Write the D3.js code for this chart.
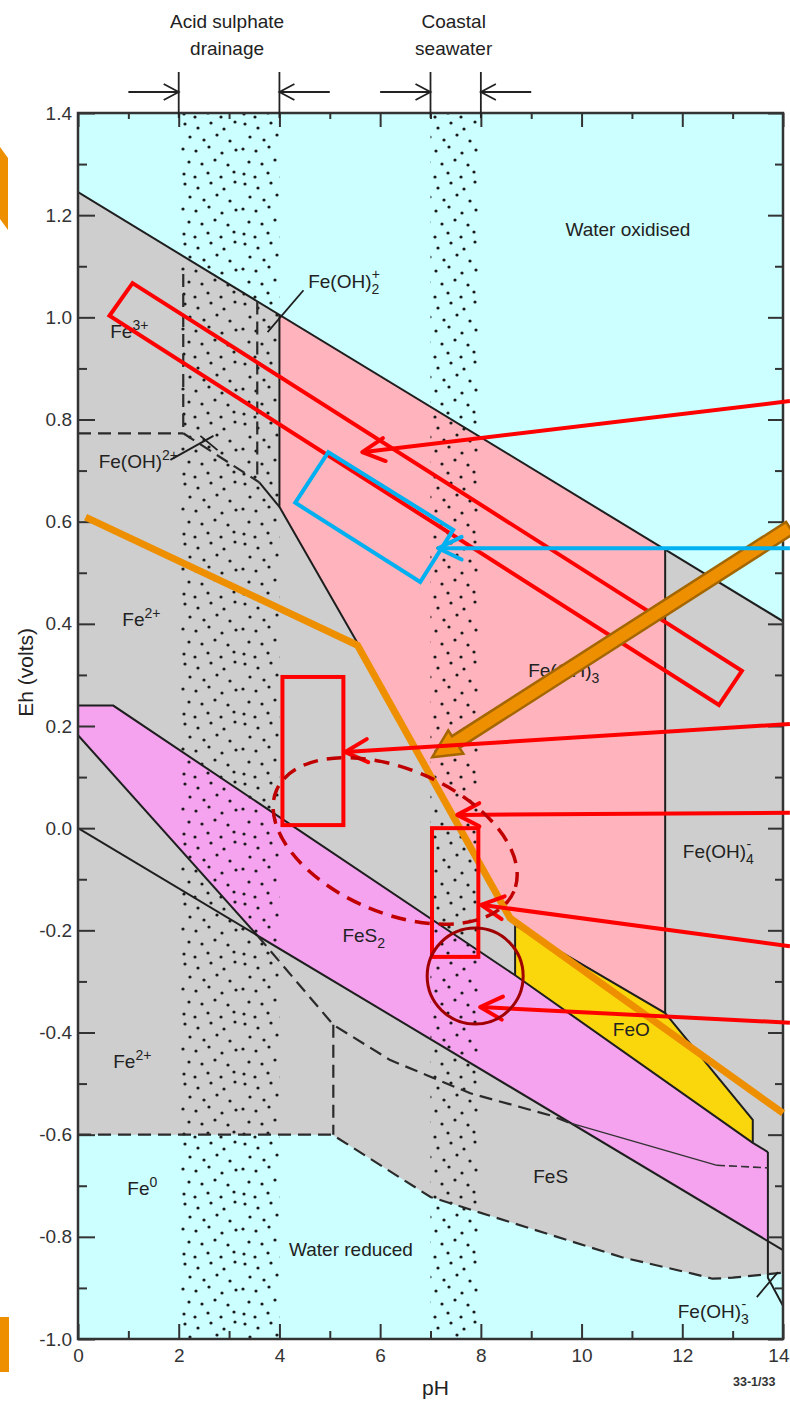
<!DOCTYPE html>
<html><head><meta charset="utf-8">
<script src="https://cdn.jsdelivr.net/npm/d3@7"></script>
<style>
body{margin:0;background:#fff;}
text{font-family:"Liberation Sans",Arial,Helvetica,sans-serif;}
</style>
</head><body>
<svg id="c" width="790" height="1402"></svg>
<script>
// ---------- axis ticks ----------
const phTicks = [0,2,4,6,8,10,12,14];
const phMinor = [1,3,5,7,9,11,13];
const ehTicks = [1.4,1.2,1.0,0.8,0.6,0.4,0.2,0.0,-0.2,-0.4,-0.6,-0.8,-1.0];
const ehMinor = [1.3,1.1,0.9,0.7,0.5,0.3,0.1,-0.1,-0.3,-0.5,-0.7,-0.9];

// ---------- stability field boundaries (pH, Eh) ----------
const waterUpper = [[0,1.245],[14,0.405]];
const waterLower = [[0,0.0],[14,-0.826]];
const fe0Boundary = [[0,-0.6],[5.05,-0.6],[7.0,-0.722],[10.8,-0.84],[12.2,-0.872],[12.6,-0.882],[13.0,-0.88],[14,-0.87]];
const feohPink = [[4.0,1.005],[11.66,0.545],[11.66,-0.362],[8.68,-0.19],[5.57,0.359],[4.0,0.629]];
const fes2Top = [[0,0.24],[0.7,0.24],[8.68,-0.288],[13.4,-0.616],[13.7,-0.634]];
const fes2Left = [[0,0.182],[3.57,-0.211]];
const feoPoly = [[8.68,-0.19],[11.66,-0.362],[13.4,-0.571],[13.4,-0.616],[8.68,-0.288]];
const feohLeft = [[4.0,1.005],[4.0,0.629],[5.57,0.359],[8.68,-0.19]];
const feohRight = [[11.66,0.545],[11.66,-0.362]];
const feoTop = [[8.68,-0.19],[11.66,-0.362],[13.4,-0.571],[13.4,-0.616]];
const feoLeft = [[8.68,-0.19],[8.68,-0.288]];
const rightEdge = [[13.7,-0.634],[13.7,-0.88],[14,-0.935]];
const fesThin = [[9.8,-0.578],[12.69,-0.66]];
const fesThinDash = [[12.69,-0.66],[13.7,-0.665]];
const fe3Solid = [[3.6,0.677],[4.0,0.629]];
const dashLines = [
  [[0,0.773],[2.09,0.773]],
  [[2.09,1.085],[2.09,0.773]],
  [[3.56,1.031],[3.56,0.682]],
  [[2.09,0.773],[3.6,0.677]],
  [[3.57,-0.211],[5.07,-0.385],[6.2,-0.454],[7.79,-0.519],[9.37,-0.562],[9.8,-0.578]],
  [[5.07,-0.385],[5.07,-0.6]],
  fe0Boundary
];
const leaders = [
  [[3.765,0.971],[4.478,1.053]],
  [[1.835,0.721],[2.69,0.768]],
  [[2.43,0.768],[2.77,0.740]],
  [[13.48,-0.918],[13.9,-0.869]]
];

// ---------- labels ----------
const regionLabels = [
  {t:[["Water oxidised","n"]], ph:10.92, eh:1.159, anchor:"middle"},
  {t:[["Fe(OH)","n"],["2","+"]], ph:4.57, eh:1.057},
  {t:[["Fe","n"],["3+","sup"]], ph:0.64, eh:0.960},
  {t:[["Fe(OH)","n"],["2+","sup"]], ph:0.41, eh:0.705},
  {t:[["Fe","n"],["2+","sup"]], ph:0.88, eh:0.396},
  {t:[["Fe(OH)","n"],["3","sub"]], ph:8.94, eh:0.296},
  {t:[["Fe(OH)","n"],["4","-"]], ph:12.01, eh:-0.0585},
  {t:[["FeS","n"],["2","sub"]], ph:5.25, eh:-0.223},
  {t:[["FeO","n"]], ph:10.62, eh:-0.407},
  {t:[["Fe","n"],["2+","sup"]], ph:0.70, eh:-0.470},
  {t:[["Fe","n"],["0","sup"]], ph:0.98, eh:-0.718},
  {t:[["FeS","n"]], ph:9.04, eh:-0.695},
  {t:[["Water reduced","n"]], ph:4.19, eh:-0.838},
  {t:[["Fe(OH)","n"],["3","-"]], ph:11.91, eh:-0.959}
];
const bands = [
  {name:["Acid sulphate","drainage"], from:2, to:4, arrowFrom:[1,5]},
  {name:["Coastal","seawater"], from:7, to:8, arrowFrom:[6,9]}
];

// ---------- overlay annotations (pH, Eh) ----------
const redTilted = [[1.083,1.067],[13.184,0.308],[12.728,0.241],[0.625,1.003]];
const blueTilted = [[4.970,0.736],[7.450,0.584],[6.796,0.482],[4.315,0.637]];
const redBoxes = [{ph:[4.06,5.27], eh:[0.006,0.296]}, {ph:[7.03,7.95], eh:[-0.252,0.0]}];
const redArrows = [
  [[14.137,0.836],[5.645,0.736]],
  [[14.137,0.204],[5.308,0.149]],
  [[14.137,0.030],[7.53,0.026]],
  [[14.137,-0.231],[8.006,-0.150]],
  [[14.137,-0.381],[7.986,-0.350]]
];
const blueArrow = [[14.137,0.548],[7.153,0.548]];
const orangeArrow = [[14.137,0.588],[7.034,0.139]];
const orangeLine = [[0.15,0.609],[5.55,0.358],[8.58,-0.176],[14.0,-0.558]];
const dashedEllipse = {ph:6.298, eh:-0.025};
const darkCircle = {ph:7.887, eh:-0.2895};

// ---------- drawing ----------
const svg = d3.select("#c");
const x = d3.scaleLinear().domain([0,14]).range([78,783]);
const y = d3.scaleLinear().domain([-1.0,1.4]).range([1339,113]);
const P = d => [x(d[0]), y(d[1])];
const line = d3.line().x(d=>x(d[0])).y(d=>y(d[1]));

const C = {cyan:"#ccffff", grey:"#cecece", pink:"#ffb3bc", fes2:"#f5a2ef", yellow:"#fad60c",
  ink:"#1e1e1e", red:"#ff0000", blue:"#00b0f0", orange:"#ee8f00", orangeDark:"#a36600", dred:"#c00000", circ:"#a00000"};

const defs = svg.append("defs");
defs.append("clipPath").attr("id","plot").append("rect")
  .attr("x",x(0)).attr("y",y(1.4)).attr("width",x(14)-x(0)).attr("height",y(-1)-y(1.4));
const pat = defs.append("pattern").attr("id","dots").attr("patternUnits","userSpaceOnUse")
  .attr("width",60).attr("height",60);
[[5,4],[18,8],[31,3],[44,9],[55,2],[10,17],[24,20],[37,15],[50,21],
 [3,29],[16,31],[29,27],[42,33],[56,30],[9,42],[22,44],[35,40],[48,45],
 [4,54],[15,57],[28,53],[41,57],[54,52]].forEach(d=>
  pat.append("circle").attr("cx",d[0]).attr("cy",d[1]).attr("r",1.6).attr("fill","#1a1a1a"));

const plot = svg.append("g").attr("clip-path","url(#plot)");
plot.append("rect").attr("x",x(0)).attr("y",y(1.4)).attr("width",x(14)-x(0)).attr("height",y(-1)-y(1.4)).attr("fill",C.cyan);

const greyPoly = [...waterUpper, [14,-0.87], ...fe0Boundary.slice().reverse()];
plot.append("path").attr("d",line(greyPoly)+"Z").attr("fill",C.grey);
plot.append("path").attr("d",line(feohPink)+"Z").attr("fill",C.pink);
const wl = e => -0.059*e;
const fes2Poly = [...fes2Top, [13.7, wl(13.7)], [3.57, wl(3.57)], ...fes2Left.slice().reverse()];
plot.append("path").attr("d",line(fes2Poly)+"Z").attr("fill",C.fes2);
plot.append("path").attr("d",line(feoPoly)+"Z").attr("fill",C.yellow);

bands.forEach(b=>{
  plot.append("rect").attr("x",x(b.from)).attr("y",y(1.4)).attr("width",x(b.to)-x(b.from))
    .attr("height",y(-1)-y(1.4)).attr("fill","url(#dots)");
});

const solid = [waterUpper, waterLower, fes2Top, fes2Left, feohLeft, feohRight, feoTop, feoLeft, rightEdge, fe3Solid];
solid.forEach(s=>plot.append("path").attr("d",line(s)).attr("fill","none").attr("stroke",C.ink).attr("stroke-width",2));
plot.append("path").attr("d",line(fesThin)).attr("fill","none").attr("stroke","#333").attr("stroke-width",1.4);
plot.append("path").attr("d",line(fesThinDash)).attr("fill","none").attr("stroke","#333").attr("stroke-width",1.6).attr("stroke-dasharray","8 4");
dashLines.forEach(s=>plot.append("path").attr("d",line(s)).attr("fill","none").attr("stroke","#2a2a2a")
  .attr("stroke-width",2.2).attr("stroke-dasharray","13 7"));
leaders.forEach(s=>svg.append("path").attr("d",line(s)).attr("fill","none").attr("stroke",C.ink).attr("stroke-width",1.8));

const FS = 19, SS = 14;
regionLabels.forEach(L=>{
  const t = svg.append("text").attr("x",x(L.ph)).attr("y",y(L.eh)).attr("font-size",FS)
    .attr("fill","#222").attr("text-anchor",L.anchor||"start");
  let shift = 0;
  L.t.forEach(([s,k])=>{
    if(k==="n"){ t.append("tspan").attr("dy",-shift).text(s); shift=0; }
    else if(k==="sup"){ t.append("tspan").attr("font-size",SS).attr("dy",-8-shift).text(s); shift=-8; }
    else if(k==="sub"){ t.append("tspan").attr("font-size",SS).attr("dy",6-shift).text(s); shift=6; }
    else {
      t.append("tspan").attr("font-size",SS).attr("dy",6-shift).text(s);
      t.append("tspan").attr("font-size",SS).attr("dx",-7.5).attr("dy",-15).text(k); shift=-9;
    }
  });
});

// axes
const axG = svg.append("g").attr("color","#333");
function styleAxis(g){ g.select(".domain").remove(); g.selectAll("line").attr("stroke-width",2);
  g.selectAll("text").attr("font-size",19).attr("font-family","'Liberation Sans',Arial,sans-serif").attr("fill","#333"); }
axG.append("g").attr("transform",`translate(${x(0)},0)`)
  .call(d3.axisLeft(y).tickValues(ehTicks).tickSize(-17).tickPadding(6).tickFormat(d=>d.toFixed(1))).call(styleAxis);
axG.append("g").attr("transform",`translate(${x(0)},0)`)
  .call(d3.axisLeft(y).tickValues(ehMinor).tickSize(-9).tickFormat("")).call(styleAxis);
axG.append("g").attr("transform",`translate(${x(14)},0)`)
  .call(d3.axisRight(y).tickValues(ehTicks).tickSize(-15).tickFormat("")).call(styleAxis);
axG.append("g").attr("transform",`translate(${x(14)},0)`)
  .call(d3.axisRight(y).tickValues(ehMinor).tickSize(-8).tickFormat("")).call(styleAxis);
const bottomAx = axG.append("g").attr("transform",`translate(0,${y(-1)})`)
  .call(d3.axisBottom(x).tickValues(phTicks).tickSize(-15).tickPadding(10).tickFormat(d3.format("d"))).call(styleAxis);
bottomAx.selectAll(".tick").filter(d=>d===14).select("text").attr("text-anchor","end").attr("x",6);
axG.append("g").attr("transform",`translate(0,${y(-1)})`)
  .call(d3.axisBottom(x).tickValues(phMinor).tickSize(-8).tickFormat("")).call(styleAxis);
axG.append("g").attr("transform",`translate(0,${y(1.4)})`)
  .call(d3.axisTop(x).tickValues(phTicks).tickSize(-14).tickFormat("")).call(styleAxis);
axG.append("g").attr("transform",`translate(0,${y(1.4)})`)
  .call(d3.axisTop(x).tickValues(phMinor).tickSize(-6).tickFormat("")).call(styleAxis);
svg.append("rect").attr("x",x(0)).attr("y",y(1.4)).attr("width",x(14)-x(0)).attr("height",y(-1)-y(1.4))
  .attr("fill","none").attr("stroke","#333").attr("stroke-width",2.5);

svg.append("text").attr("transform",`translate(33,${y(0.305)}) rotate(-90)`).attr("text-anchor","middle")
  .attr("font-size",21).attr("fill","#222").text("Eh (volts)");
svg.append("text").attr("x",x(7.1)).attr("y",1395).attr("text-anchor","middle").attr("font-size",21).attr("fill","#222").text("pH");
svg.append("text").attr("x",733).attr("y",1386).attr("font-size",12.5).attr("font-weight","bold").attr("fill","#333").text("33-1/33");

const topY = y(1.4);
bands.forEach(b=>{
  const g = svg.append("g").attr("stroke","#222").attr("stroke-width",1.8).attr("fill","none");
  [b.from,b.to].forEach(v=>g.append("line").attr("x1",x(v)).attr("x2",x(v)).attr("y1",topY-41).attr("y2",topY+5));
  const ay = topY-21;
  [[b.arrowFrom[0],b.from],[b.arrowFrom[1],b.to]].forEach(([f,t])=>{
    g.append("line").attr("x1",x(f)).attr("x2",x(t)).attr("y1",ay).attr("y2",ay);
    const s = Math.sign(x(t)-x(f));
    g.append("path").attr("d",`M${x(t)-s*15},${ay-8}L${x(t)},${ay}L${x(t)-s*15},${ay+8}`);
  });
  const cx = x((b.from+b.to)/2)-2;
  svg.append("text").attr("x",cx).attr("y",28).attr("text-anchor","middle").attr("font-size",19).attr("fill","#222").text(b.name[0]);
  svg.append("text").attr("x",cx).attr("y",55).attr("text-anchor","middle").attr("font-size",19).attr("fill","#222").text(b.name[1]);
});

// ---------- overlays ----------
const ov = svg.append("g");
ov.append("path").attr("d",line(redTilted)+"Z").attr("fill","none").attr("stroke",C.red).attr("stroke-width",4);
ov.append("path").attr("d",line(blueTilted)+"Z").attr("fill","none").attr("stroke",C.blue).attr("stroke-width",4);
ov.append("path").attr("d",line(orangeLine)).attr("fill","none").attr("stroke",C.orange).attr("stroke-width",7).attr("stroke-linejoin","miter");

(function(){
  const p0 = P(orangeArrow[0]), p1 = P(orangeArrow[1]);
  const a = Math.atan2(p1[1]-p0[1], p1[0]-p0[0]);
  const ux = Math.cos(a), uy = Math.sin(a), nx = -uy, ny = ux;
  const hw = 7, hh = 14, hl = 28;
  const base = [p1[0]-ux*hl, p1[1]-uy*hl];
  const pts = [
    [p0[0]+nx*hw, p0[1]+ny*hw], [base[0]+nx*hw, base[1]+ny*hw], [base[0]+nx*hh, base[1]+ny*hh],
    p1, [base[0]-nx*hh, base[1]-ny*hh], [base[0]-nx*hw, base[1]-ny*hw], [p0[0]-nx*hw, p0[1]-ny*hw]];
  ov.append("path").attr("d","M"+pts.map(p=>p.join(",")).join("L")+"Z").attr("fill",C.orange)
    .attr("stroke",C.orangeDark).attr("stroke-width",2.5).attr("stroke-linejoin","miter");
})();

function arrow(seg, color, w, barb, ang){
  const p0 = P(seg[0]), p1 = P(seg[1]);
  const a = Math.atan2(p1[1]-p0[1], p1[0]-p0[0]);
  ov.append("line").attr("x1",p0[0]).attr("y1",p0[1]).attr("x2",p1[0]).attr("y2",p1[1])
    .attr("stroke",color).attr("stroke-width",w);
  const b1 = [p1[0]-barb*Math.cos(a-ang), p1[1]-barb*Math.sin(a-ang)];
  const b2 = [p1[0]-barb*Math.cos(a+ang), p1[1]-barb*Math.sin(a+ang)];
  ov.append("path").attr("d",`M${b1}L${p1}L${b2}`).attr("fill","none").attr("stroke",color)
    .attr("stroke-width",w).attr("stroke-linecap","round").attr("stroke-linejoin","round");
}
arrow(blueArrow, C.blue, 4, 26, 0.45);
redArrows.forEach(s=>arrow(s, C.red, 4, 25, 0.48));
redBoxes.forEach(b=>{
  ov.append("rect").attr("x",x(b.ph[0])).attr("y",y(b.eh[1])).attr("width",x(b.ph[1])-x(b.ph[0]))
    .attr("height",y(b.eh[0])-y(b.eh[1])).attr("fill","none").attr("stroke",C.red).attr("stroke-width",4);
});
ov.append("ellipse").attr("cx",0).attr("cy",0).attr("rx",129).attr("ry",72)
  .attr("transform",`translate(${x(dashedEllipse.ph)},${y(dashedEllipse.eh)}) rotate(23)`)
  .attr("fill","none").attr("stroke",C.dred).attr("stroke-width",3.5).attr("stroke-dasharray","15 9");
ov.append("circle").attr("cx",x(darkCircle.ph)).attr("cy",y(darkCircle.eh)).attr("r",48)
  .attr("fill","none").attr("stroke",C.circ).attr("stroke-width",3);

svg.append("path").attr("d","M0,147L8,158L8,230L0,219Z").attr("fill",C.orange);
svg.append("rect").attr("x",0).attr("y",1317).attr("width",9).attr("height",55).attr("fill",C.orange);
</script>
</body></html>
